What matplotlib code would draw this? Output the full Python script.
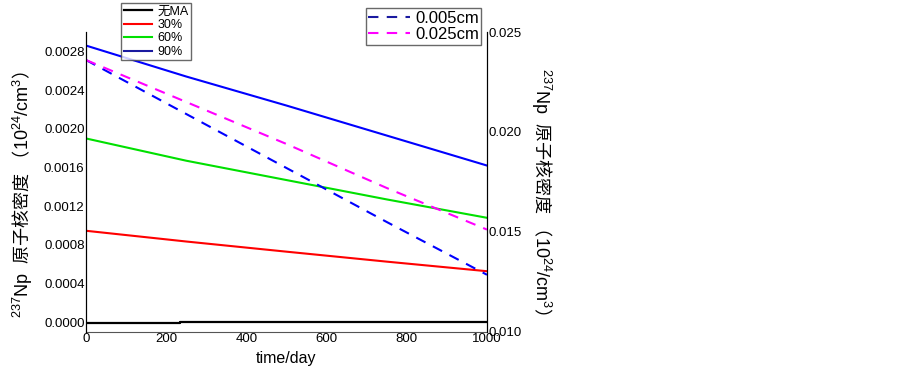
import numpy as np
import matplotlib.pyplot as plt

plt.rcParams['font.family'] = ['Liberation Sans', 'Noto Sans CJK SC']
plt.rcParams['mathtext.fontset'] = 'custom'
plt.rcParams['mathtext.rm'] = 'Liberation Sans'
plt.rcParams['mathtext.it'] = 'Liberation Sans:italic'
plt.rcParams['mathtext.sf'] = 'Noto Sans CJK SC'

# time points (day)
t = [0, 250, 500, 750, 1000]
t_noma = [0, 234, 234, 713, 713, 1000]

# left axis: 237Np density for MA fractions
noma = [-0.000006, -0.000006, -0.000001, -0.000001, 0.000003, 0.000003]
ma30 = [0.000946, 0.000835, 0.000730, 0.000627, 0.000528]
ma60 = [0.00190, 0.00167, 0.00147, 0.00127, 0.00108]
ma90 = [0.00286, 0.00254, 0.00224, 0.00193, 0.00162]

# right axis: 237Np density for coating thickness
d005 = [0.0236, 0.0209, 0.0182, 0.0155, 0.01286]
d025 = [0.0236, 0.0215, 0.0194, 0.0172, 0.01512]

ylab = r'$^{237}$Np  $\mathsf{原子核密度}$ $\mathsf{（}$10$^{24}$/cm$^{3}$$\mathsf{）}$'

fig = plt.figure(figsize=(9.03, 3.67), dpi=100)
ax = fig.add_axes([0.0952, 0.0954, 0.4441, 0.8174])

l0, = ax.plot(t_noma, noma, color='black', lw=1.6)
l1, = ax.plot(t, ma30, color='#ff0000', lw=1.5)
l2, = ax.plot(t, ma60, color='#00e000', lw=1.5)
l3, = ax.plot(t, ma90, color='#0000ff', lw=1.5)

ax.set_xlim(0, 1000)
ax.set_ylim(-0.0001, 0.003)
ax.set_xticks([0, 200, 400, 600, 800, 1000])
ax.set_yticks([0, 0.0004, 0.0008, 0.0012, 0.0016, 0.0020, 0.0024, 0.0028])
ax.set_yticklabels(['%.4f' % v for v in ax.get_yticks()])
ax.tick_params(length=0, pad=1, labelsize=9.5)
ax.spines['top'].set_visible(False)
ax.spines['bottom'].set_color('#555555')
ax.set_xlabel('time/day', fontsize=11.5, labelpad=4)
ax.set_ylabel(ylab, fontsize=13, labelpad=4)
ax.yaxis.set_label_coords(-0.128, 0.457)

ax2 = ax.twinx()
ax2.set_position(ax.get_position())
d1, = ax2.plot(t, d005, color='#0000ff', lw=1.5, ls=(0, (5, 4)))
d2, = ax2.plot(t, d025, color='#ff00ff', lw=1.5, ls=(0, (5, 4)))
ax2.set_ylim(0.010, 0.025)
ax2.set_yticks([0.010, 0.015, 0.020, 0.025])
ax2.set_yticklabels(['0.010', '0.015', '0.020', '0.025'])
ax2.tick_params(length=0, pad=1, labelsize=9.5)
ax2.spines['top'].set_visible(False)
ax2.spines['bottom'].set_visible(False)
ax2.set_ylabel(ylab, fontsize=13, rotation=-90)
ax2.yaxis.set_label_coords(1.165, 0.467)

leg1 = fig.legend([l0, l1, l2, l3], ['无MA', '30%', '60%', '90%'],
                  loc='upper left', bbox_to_anchor=(0.134, 0.992),
                  fontsize=9, handlelength=2.3, labelspacing=0.12,
                  borderpad=0.2, handletextpad=0.4, borderaxespad=0,
                  frameon=True, fancybox=False, edgecolor='#444444')
leg1.get_frame().set_linewidth(1.0)
leg1.get_lines()[3].set_color('#1a1aa0')
leg2 = fig.legend([d1, d2], ['0.005cm', '0.025cm'],
                  loc='upper right', bbox_to_anchor=(0.533, 0.978),
                  fontsize=12, handlelength=2.5, labelspacing=0.1,
                  borderpad=0.15, handletextpad=0.3, borderaxespad=0,
                  frameon=True, fancybox=False, edgecolor='#444444')
leg2.get_frame().set_linewidth(1.0)
leg2.get_lines()[0].set_color('#1a1aa0')

fig.savefig('out.png', dpi=100)
